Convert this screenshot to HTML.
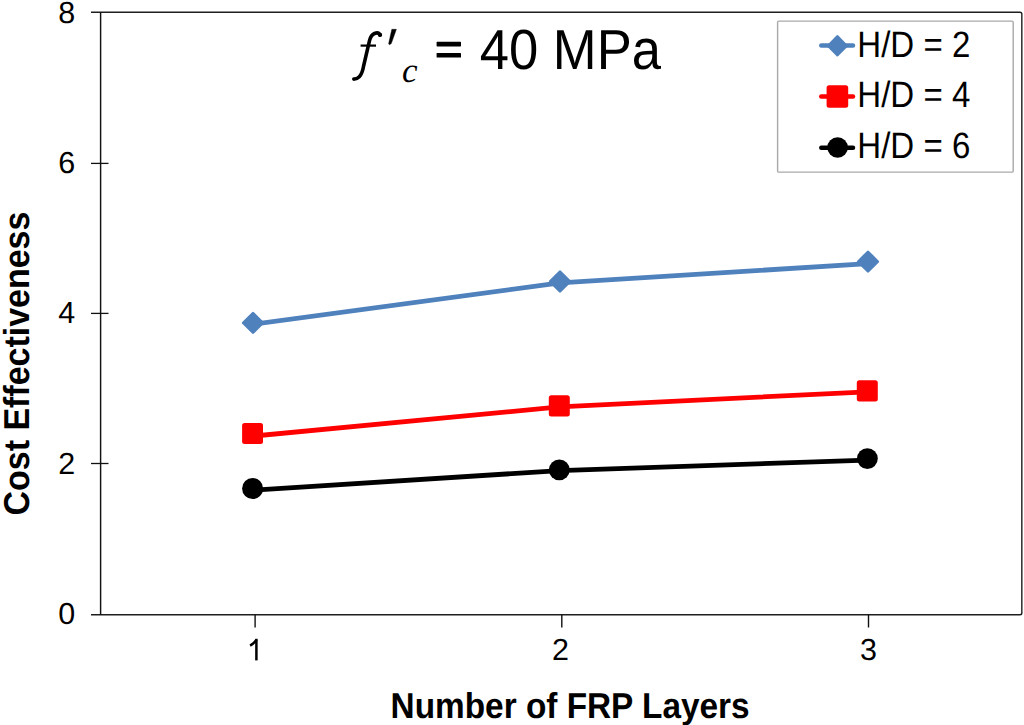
<!DOCTYPE html>
<html><head><meta charset="utf-8"><style>
html,body{margin:0;padding:0;background:#fff;width:1024px;height:725px;overflow:hidden}
svg{display:block}
text{font-family:"Liberation Sans",sans-serif;fill:#000;text-rendering:geometricPrecision}
</style></head><body>
<svg width="1024" height="725" viewBox="0 0 1024 725">
<rect width="1024" height="725" fill="#fff"/>
<!-- plot frame -->
<g stroke="#111" fill="none">
<path d="M91,12.25 H1020 Q1021.8,12.25 1021.8,14" stroke-width="1.5" stroke="#1e1e1e"/>
<line x1="1021.8" y1="14" x2="1021.8" y2="613" stroke-width="1.6" stroke="#383838"/>
<path d="M1021.8,613 Q1021.8,614.75 1020,614.75 H91" stroke-width="1.5" stroke="#1e1e1e"/>
<line x1="100.6" y1="12" x2="100.6" y2="614.8" stroke-width="1.45" stroke="#111"/>
<!-- y ticks -->
<line x1="91" y1="163.4" x2="108.5" y2="163.4" stroke-width="1.3"/>
<line x1="91" y1="313.4" x2="108.5" y2="313.4" stroke-width="1.3"/>
<line x1="91" y1="463.5" x2="108.5" y2="463.5" stroke-width="1.3"/>
<!-- x ticks -->
<line x1="255.1" y1="614.8" x2="255.1" y2="627.5" stroke-width="1.4"/>
<line x1="561.8" y1="614.8" x2="561.8" y2="627.5" stroke-width="1.4"/>
<line x1="868.5" y1="614.8" x2="868.5" y2="627.5" stroke-width="1.4"/>
</g>
<!-- y labels -->
<g font-size="30.5" text-anchor="end">
<text x="75.1" y="22.8">8</text>
<text x="75.1" y="173.4">6</text>
<text x="75.1" y="322.8">4</text>
<text x="75.1" y="474">2</text>
<text x="75.1" y="623.9">0</text>
</g>
<!-- x labels -->
<g font-size="30.5" text-anchor="middle">

<text x="560.5" y="660">2</text>
<text x="868.5" y="660">3</text>
</g>
<g stroke="#000" stroke-width="2.5" fill="none"><line x1="256.4" y1="638.8" x2="256.4" y2="660.4"/><path d="M256.6,639.6 Q254.2,643.4 250.1,645.6" stroke-width="2.6"/></g>
<!-- axis titles -->
<text x="390.6" y="718.2" font-size="36" font-weight="bold" textLength="359" lengthAdjust="spacingAndGlyphs">Number of FRP Layers</text>
<text transform="translate(28.8,515.4) rotate(-90)" font-size="36" font-weight="bold" textLength="303.7" lengthAdjust="spacingAndGlyphs">Cost Effectiveness</text>

<!-- series lines -->
<g fill="none" stroke-width="4.8" stroke-linejoin="round" stroke-linecap="round">
<polyline stroke="#4F81BD" points="253,324.3 560,282.9 868,263.6"/>
<polyline stroke="#FF0000" points="252.6,436.1 559.4,406.9 867.3,391.8"/>
<polyline stroke="#000" points="252.6,490.3 559.4,470.6 867.4,460.1"/>
</g>
<!-- markers -->
<g fill="#4F81BD" stroke="#4F81BD" stroke-width="2.6" stroke-linejoin="round">
<polygon points="253,313.1 262.8,322.9 253,332.7 243.2,322.9"/>
<polygon points="560,271.7 569.8,281.5 560,291.3 550.2,281.5"/>
<polygon points="868,251.8 877.8,261.6 868,271.4 858.2,261.6"/>
</g>
<g fill="#FF0000">
<rect x="242.1" y="422.9" width="20.9" height="21" rx="2.5"/>
<rect x="548.8" y="395.3" width="21" height="21.2" rx="2.5"/>
<rect x="856.8" y="380.3" width="21" height="21.2" rx="2.5"/>
</g>
<g fill="#000">
<circle cx="252.6" cy="488.5" r="10.5"/>
<circle cx="559.3" cy="469.8" r="10.4"/>
<circle cx="867.4" cy="458.6" r="10.4"/>
</g>

<!-- title -->
<g>
<path d="M379.8,34.8 C379,32.9 376.6,32.7 374.5,33.5 C371.7,34.7 370.3,37.5 369.5,40.6 L363.7,65.5 C362.9,70.2 361.7,74.3 359.3,76.7 C357.7,78.3 355.7,79.1 353.8,79.1" fill="none" stroke="#000" stroke-width="3.6" stroke-linecap="round"/>
<circle cx="380.1" cy="34.9" r="2.1" fill="#000"/>
<line x1="360.6" y1="45.6" x2="376" y2="45.6" stroke="#000" stroke-width="2.2"/>
<polygon points="391.8,29.3 396.4,29.3 391.3,43.6 389.5,44.8 388.6,43.8" fill="#000" stroke="#000" stroke-width="0.4" stroke-linejoin="round"/>
<text x="402" y="81.5" style="font-family:'Liberation Serif';font-style:italic;font-size:35px">c</text>
<rect x="436.6" y="41.8" width="24.4" height="4.6" rx="0.6" fill="#000"/>
<rect x="436.6" y="52.9" width="24.4" height="4.6" rx="0.6" fill="#000"/>
<text x="479.7" y="68.8" font-size="56.5" textLength="181.3" lengthAdjust="spacingAndGlyphs">40 MPa</text>
</g>

<!-- legend -->
<rect x="777.6" y="21.1" width="235.6" height="151" fill="#fff" stroke="#a9a9a9" stroke-width="1.4" rx="1.2"/>
<g stroke-width="4.5" stroke-linecap="round">
<line x1="821.3" y1="45.5" x2="853" y2="45.5" stroke="#4F81BD"/>
<line x1="821.3" y1="96.6" x2="853" y2="96.6" stroke="#FF0000"/>
<line x1="821.3" y1="147.7" x2="853" y2="147.7" stroke="#000"/>
</g>
<polygon points="837.4,36.4 846.6,45.8 837.4,55.2 828.2,45.8" fill="#4F81BD" stroke="#4F81BD" stroke-width="2.6" stroke-linejoin="round"/>
<rect x="826.6" y="85.3" width="21.6" height="22.4" rx="2.5" fill="#FF0000"/>
<circle cx="837.6" cy="147.5" r="10.3" fill="#000"/>
<g font-size="36.6">
<text x="857.3" y="56.8" textLength="113" lengthAdjust="spacingAndGlyphs">H/D = 2</text>
<text x="857.3" y="107" textLength="113" lengthAdjust="spacingAndGlyphs">H/D = 4</text>
<text x="857.3" y="158" textLength="113" lengthAdjust="spacingAndGlyphs">H/D = 6</text>
</g>
</svg>
</body></html>
